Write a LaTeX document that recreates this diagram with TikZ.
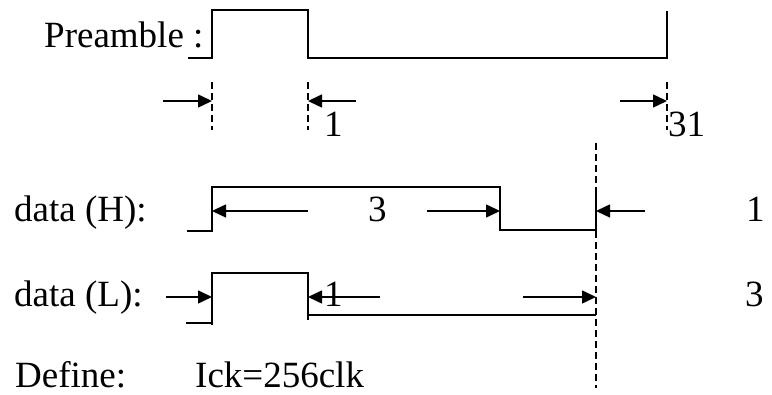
\documentclass[tikz,border=0pt]{standalone}
\usepackage{fontspec}
\setmainfont{Liberation Serif}
\usetikzlibrary{arrows.meta, positioning}

\begin{document}
\begin{tikzpicture}[x=1pt,y=-1pt,font=\fontsize{37}{41}\selectfont,
    sig/.style={line width=2.3pt},
    dim/.style={line width=1.5pt,-{Triangle[length=14pt,width=13pt]}},
    guide/.style={line width=1.5pt,dash pattern=on 7pt off 4pt},
    lbl/.style={anchor=base west,inner sep=0pt}]
  \useasboundingbox (0,0) rectangle (772,395);

  % texts
  \node[lbl] (pre)    at (44,48)   {Preamble :};
  \node[lbl] (dh)     at (14,222)  {data (H):};
  \node[lbl] (dl)     at (14,307)  {data (L):};
  \node[lbl] (def)    at (15,388)  {Define:};
  \node[lbl] (ick)    at (195,388) {Ick=256clk};
  \node[lbl] (n1)     at (324,137) {1};
  \node[lbl] (n31)    at (668,137) {31};
  \node[lbl] (h3)     at (368,222) {3};
  \node[lbl] (h1)     at (746,222) {1};
  \node[lbl] (l1)     at (324,307) {1};
  \node[lbl] (l3)     at (745,307) {3};

  % waveforms
  \draw[sig] (188,58) -| (212,10) -| (308,58) -| (667,11);
  \draw[sig] (187,231) -| (212,187) -| (500,230) -- (596,230);
  \draw[sig] (596,238) -- (596,187);
  \draw[sig] (186,323) -- (212,323);
  \draw[sig] (212,325) |- (308,273) -- (308,320);
  \draw[sig] (308,315) -- (596,315);

  % guides
  \draw[guide] (212,82) -- (212,130);
  \draw[guide] (308,82) -- (308,130);
  \draw[guide] (667,82) -- (667,130);
  \draw[guide] (596,143) -- (596,388);

  % arrow ends
  \coordinate (p0) at (212,101);  \coordinate (p0a) at (163,101);
  \coordinate (p1) at (308,101);  \coordinate (p1a) at (356,101);
  \coordinate (p31) at (667,101); \coordinate (p31a) at (620,101);
  \coordinate (h0) at (212,211);  \coordinate (h0a) at (308,211);
  \coordinate (h2) at (500,211);  \coordinate (h2a) at (427,211);
  \coordinate (he) at (596,211);  \coordinate (hea) at (645,211);
  \coordinate (l0) at (212,297);  \coordinate (l0a) at (166,297);
  \coordinate (lf) at (308,297);  \coordinate (lfa) at (380,297);
  \coordinate (le) at (596,297);  \coordinate (lea) at (523,297);

  \path[dim] (p0a) edge (p0)  (p1a) edge (p1)  (p31a) edge (p31)
             (h0a) edge (h0)  (h2a) edge (h2)  (hea) edge (he)
             (l0a) edge (l0)  (lfa) edge (lf)  (lea) edge (le);
\end{tikzpicture}
\end{document}
